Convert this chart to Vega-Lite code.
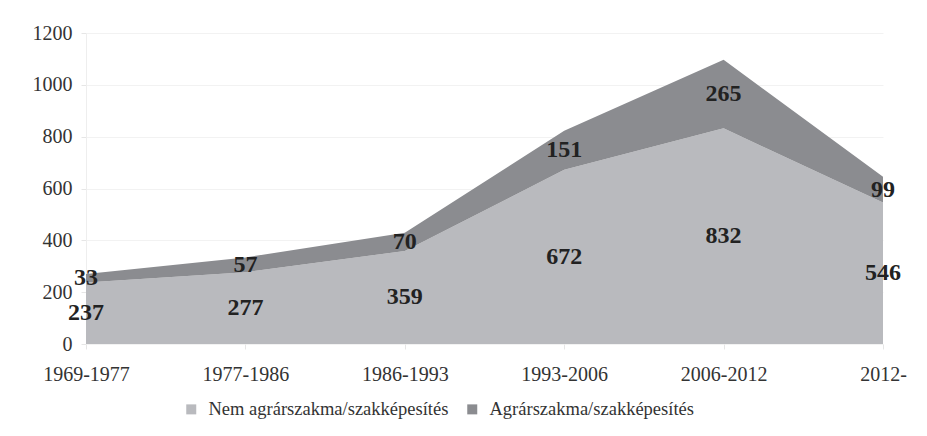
{
  "$schema": "https://vega.github.io/schema/vega-lite/v6.json",
  "autosize": "none",
  "width": 797,
  "height": 311,
  "padding": {"left": 86, "top": 33, "right": 44, "bottom": 92},
  "background": "white",
  "config": {
    "font": "Liberation Serif",
    "view": {"stroke": null}
  },
  "data": {
    "values": [
      {"period": "1969-1977", "series": "Nem agrárszakma/szakképesítés", "value": 237},
      {"period": "1977-1986", "series": "Nem agrárszakma/szakképesítés", "value": 277},
      {"period": "1986-1993", "series": "Nem agrárszakma/szakképesítés", "value": 359},
      {"period": "1993-2006", "series": "Nem agrárszakma/szakképesítés", "value": 672},
      {"period": "2006-2012", "series": "Nem agrárszakma/szakképesítés", "value": 832},
      {"period": "2012-", "series": "Nem agrárszakma/szakképesítés", "value": 546},
      {"period": "1969-1977", "series": "Agrárszakma/szakképesítés", "value": 33},
      {"period": "1977-1986", "series": "Agrárszakma/szakképesítés", "value": 57},
      {"period": "1986-1993", "series": "Agrárszakma/szakképesítés", "value": 70},
      {"period": "1993-2006", "series": "Agrárszakma/szakképesítés", "value": 151},
      {"period": "2006-2012", "series": "Agrárszakma/szakképesítés", "value": 265},
      {"period": "2012-", "series": "Agrárszakma/szakképesítés", "value": 99}
    ]
  },
  "transform": [
    {"stack": "value", "groupby": ["period"], "sort": [{"field": "series", "order": "descending"}], "as": ["v0", "v1"]},
    {"calculate": "(datum.v0 + datum.v1) / 2", "as": "mid"}
  ],
  "encoding": {
    "x": {
      "field": "period",
      "type": "ordinal",
      "sort": null,
      "scale": {"type": "point", "padding": 0},
      "axis": {
        "title": null,
        "labelAngle": 0,
        "labelFont": "Liberation Serif",
        "labelFontSize": 20,
        "labelColor": "#333333",
        "labelPadding": 15,
        "tickSize": 5,
        "tickColor": "#e6e6e6",
        "domain": false,
        "grid": false
      }
    }
  },
  "layer": [
    {
      "mark": {"type": "area", "interpolate": "linear", "opacity": 1},
      "encoding": {
        "y": {
          "field": "v1",
          "type": "quantitative",
          "scale": {"domain": [0, 1200]},
          "axis": {
            "title": null,
            "values": [0, 200, 400, 600, 800, 1000, 1200],
            "format": "d",
            "labelFont": "Liberation Serif",
            "labelFontSize": 20,
            "labelColor": "#333333",
            "labelPadding": 9,
            "tickSize": 5,
            "tickColor": "#e6e6e6",
            "domainColor": "#eeeeee",
            "gridColor": "#f2f2f2",
            "grid": true
          }
        },
        "y2": {"field": "v0"},
        "color": {
          "field": "series",
          "type": "nominal",
          "scale": {
            "domain": ["Nem agrárszakma/szakképesítés", "Agrárszakma/szakképesítés"],
            "range": ["#b9babe", "#8b8c90"]
          },
          "legend": {
            "title": null,
            "orient": "none",
            "legendX": 96,
            "legendY": 367,
            "direction": "horizontal",
            "symbolType": "square",
            "symbolSize": 100,
            "symbolStrokeWidth": 0,
            "labelFont": "Liberation Serif",
            "labelFontSize": 18.5,
            "labelColor": "#333333",
            "labelLimit": 400,
            "columnPadding": 14,
            "labelOffset": 8
          }
        }
      }
    },
    {
      "mark": {"type": "text", "font": "Liberation Serif", "fontWeight": "bold", "fontSize": 24, "color": "#222222", "baseline": "middle", "align": "center"},
      "encoding": {
        "y": {"field": "mid", "type": "quantitative"},
        "text": {"field": "value", "type": "quantitative"}
      }
    }
  ]
}
